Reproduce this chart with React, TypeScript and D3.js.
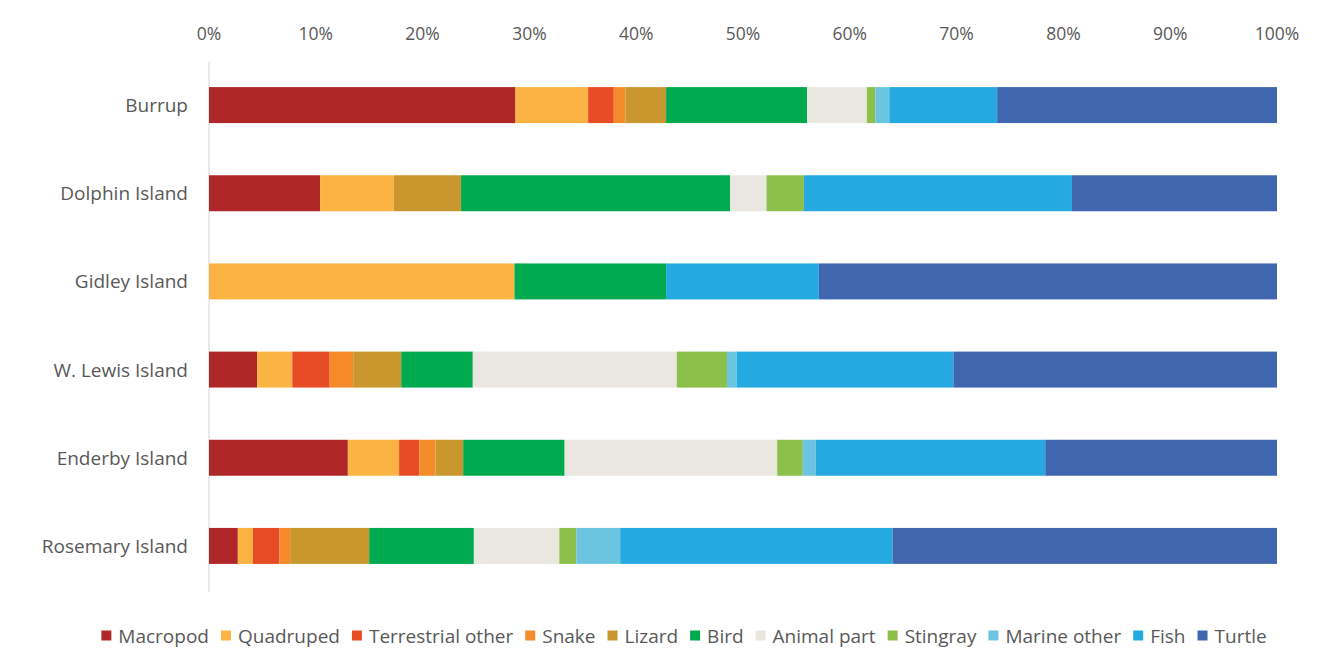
import React, { useEffect, useRef } from "react";
import * as d3 from "d3";

const categories = ["Burrup", "Dolphin Island", "Gidley Island", "W. Lewis Island", "Enderby Island", "Rosemary Island"];
const seriesNames = ["Macropod", "Quadruped", "Terrestrial other", "Snake", "Lizard", "Bird", "Animal part", "Stingray", "Marine other", "Fish", "Turtle"];
const seriesColors = ["#B0272A", "#FBB443", "#E84C25", "#F58A2A", "#C9972E", "#00AA4F", "#EAE7E0", "#8DC04A", "#6CC5E0", "#24A9E1", "#4166B0"];

const macropod = [28.7, 10.4, 0, 4.5, 13.0, 2.7];
const quadruped = [6.8, 6.9, 28.6, 3.3, 4.8, 1.4];
const terrestrialOther = [2.4, 0, 0, 3.5, 1.9, 2.5];
const snake = [1.1, 0, 0, 2.2, 1.5, 1.0];
const lizard = [3.8, 6.3, 0, 4.5, 2.6, 7.4];
const bird = [13.2, 25.2, 14.2, 6.7, 9.5, 9.8];
const animalPart = [5.6, 3.4, 0, 19.1, 19.9, 8.0];
const stingray = [0.8, 3.5, 0, 4.7, 2.4, 1.6];
const marineOther = [1.3, 0, 0, 0.9, 1.2, 4.1];
const fish = [10.1, 25.1, 14.3, 20.3, 21.5, 25.5];
const turtle = [26.2, 19.2, 42.9, 30.3, 21.7, 36.0];

const seriesValues = [macropod, quadruped, terrestrialOther, snake, lizard, bird, animalPart, stingray, marineOther, fish, turtle];
const tickValues = [0, 0.1, 0.2, 0.3, 0.4, 0.5, 0.6, 0.7, 0.8, 0.9, 1.0];

const W = 1335;
const H = 655;
const FONT = "'Open Sans', 'Noto Sans', sans-serif";

export default function App() {
  const ref = useRef<SVGSVGElement | null>(null);

  useEffect(() => {
    const svg = d3.select(ref.current);
    svg.selectAll("*").remove();

    const x = d3.scaleLinear().domain([0, 1]).range([209, 1277]);
    const y = d3.scaleBand<string>().domain(categories).range([61, 590]).paddingInner(0.592).paddingOuter(0.296);

    const rows = categories.map((c, i) => {
      const obj: any = { category: c };
      seriesNames.forEach((s, j) => (obj[s] = seriesValues[j][i]));
      return obj;
    });
    const stack = d3.stack().keys(seriesNames).offset(d3.stackOffsetExpand);
    const stacked = stack(rows);

    svg.append("line")
      .attr("x1", x(0)).attr("x2", x(0))
      .attr("y1", 62).attr("y2", 592)
      .attr("stroke", "#E3E3E3").attr("stroke-width", 1.5);

    svg.append("g").selectAll("text").data(tickValues).join("text")
      .attr("x", (d) => x(d))
      .attr("y", 33)
      .attr("text-anchor", "middle")
      .attr("dominant-baseline", "central")
      .attr("font-family", FONT)
      .attr("font-size", 17.5)
      .attr("fill", "#595959")
      .text((d) => d3.format(".0%")(d));

    const g = svg.append("g");
    stacked.forEach((layer, j) => {
      g.append("g").attr("fill", seriesColors[j]).selectAll("rect").data(layer).join("rect")
        .attr("x", (d) => x(d[0]))
        .attr("width", (d) => Math.max(0, x(d[1]) - x(d[0])))
        .attr("y", (d: any) => y(d.data.category) as number)
        .attr("height", y.bandwidth());
    });

    svg.append("g").selectAll("text").data(categories).join("text")
      .attr("x", 188)
      .attr("y", (d) => (y(d) as number) + y.bandwidth() / 2)
      .attr("text-anchor", "end")
      .attr("dominant-baseline", "central")
      .attr("font-family", FONT)
      .attr("font-size", 19)
      .attr("fill", "#595959")
      .text((d) => d);

    const lg = svg.append("g");
    let cx = 0;
    const ly = 636;
    const gapAfter = 12;
    seriesNames.forEach((s, j) => {
      lg.append("rect").attr("x", cx).attr("y", ly - 5.5).attr("width", 10).attr("height", 10).attr("fill", seriesColors[j]);
      const t = lg.append("text")
        .attr("x", cx + 17)
        .attr("y", ly)
        .attr("dominant-baseline", "central")
        .attr("font-family", FONT)
        .attr("font-size", 19)
        .attr("fill", "#595959")
        .text(s);
      const w = (t.node() as SVGTextElement).getComputedTextLength();
      cx += 17 + w + gapAfter;
    });
    const total = cx - gapAfter;
    lg.attr("transform", `translate(${684 - total / 2},0)`);
  }, []);

  return (
    <svg ref={ref} width={W} height={H} style={{ position: "fixed", left: 0, top: 0, background: "#fff" }} />
  );
}
